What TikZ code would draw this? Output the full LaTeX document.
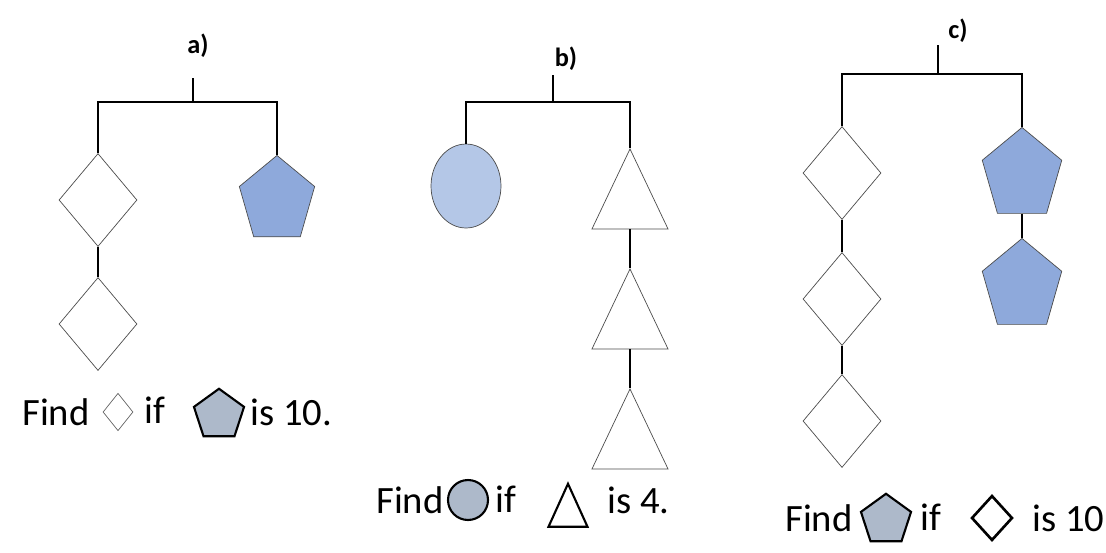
\documentclass[tikz,border=0pt]{standalone}
\usepackage{fontspec}
\setmainfont{Carlito}
\usetikzlibrary{shapes.geometric}
\definecolor{pentblue}{HTML}{8EA9DB}
\definecolor{ovalblue}{HTML}{B4C7E7}
\definecolor{keygray}{HTML}{ADB9CA}
\tikzset{
  wire/.style={line width=1.6pt},
  dia/.style={shape=diamond,draw=black!70,fill=white,inner sep=0pt,minimum width=1.56cm,minimum height=1.86cm},
  pent/.style={shape=regular polygon,regular polygon sides=5,draw=black!70,fill=pentblue,inner sep=0pt,minimum size=1.8cm,anchor=north,transform shape,xscale=0.88},
  tri/.style={shape=isosceles triangle,shape border rotate=90,isosceles triangle stretches,draw=black!70,fill=white,inner sep=0pt,minimum width=1.52cm,minimum height=1.6cm,anchor=apex},
  txt/.style={font=\fontsize{22}{26}\selectfont,inner sep=0pt},
  lbl/.style={font=\fontsize{15}{18}\selectfont\bfseries,inner sep=0pt}
}
\begin{document}
\begin{tikzpicture}[x=0.02cm,y=-0.02cm]
\useasboundingbox (0,0) rectangle (1106,552);
% a)
\node[lbl](la)at(198,46){a)};
\node[dia](a1)at(98,200){};
\node[dia](a2)at(98,324){};
\node[pent](a3)at(277,155){};
\coordinate(at)at(193,78);
\coordinate(ab)at(193,102);
\draw[wire](at)--(ab);
\draw[wire](a1.north)|-(ab)-|(a3.north);
\draw[wire](a1.south)--(a2.north);
\node[txt,anchor=west](fa)at(22,412){Find};
\node[dia,minimum width=0.6cm,minimum height=0.75cm,draw=black!60](ka1)at(118,412){};
\node[txt](fa2)at(155,410){if};
\node[pent,anchor=center,xscale=1.14,fill=keygray,draw=black,line width=1.2pt,minimum size=1.05cm](ka2)at(219,415){};
\node[txt,anchor=west](fa3)at(250,412){is 10.};
% b)
\node[lbl](lb)at(566,59){b)};
\node[shape=ellipse,draw=black!70,fill=ovalblue,minimum width=1.4cm,minimum height=1.68cm,inner sep=0pt](b0)at(466,186){};
\node[tri](b1)at(630,148){};
\node[tri](b2)at(630,268){};
\node[tri](b3)at(630,388){};
\coordinate(bt)at(553,75);
\coordinate(bb)at(553,102);
\draw[wire](bt)--(bb);
\draw[wire](b0.north)|-(bb)-|(b1.apex);
\draw[wire](b1.south)--(b2.apex);
\draw[wire](b2.south)--(b3.apex);
\node[txt,anchor=west](fb)at(376,500){Find};
\node[shape=circle,draw=black,line width=1.2pt,fill=keygray,minimum size=0.8cm,inner sep=0pt](kb1)at(468,500){};
\node[txt](fb2)at(506,499){if};
\node[shape=isosceles triangle,shape border rotate=90,isosceles triangle stretches,draw=black,line width=1.2pt,inner sep=0pt,minimum width=0.78cm,minimum height=0.86cm,anchor=apex](kb2)at(568,481){};
\node[txt,anchor=west](fb3)at(607,500){is 4.};
% c)
\node[lbl](lc)at(958,31){c)};
\node[dia](c1)at(842,173){};
\node[dia](c2)at(842,299){};
\node[dia](c3)at(842,421){};
\node[pent,minimum size=1.9cm](c4)at(1022,127){};
\node[pent,minimum size=1.9cm](c5)at(1022,238){};
\coordinate(ct)at(938,45);
\coordinate(cb)at(938,74);
\draw[wire](ct)--(cb);
\draw[wire](c1.north)|-(cb)-|(c4.north);
\draw[wire](c1.south)--(c2.north);
\draw[wire](c2.south)--(c3.north);
\draw[wire](c4.south)--(c5.north);
\node[txt,anchor=west](fc)at(785,518){Find};
\node[pent,anchor=center,xscale=1.14,fill=keygray,draw=black,line width=1.2pt,minimum size=1.05cm](kc1)at(886,520){};
\node[txt](fc2)at(931,517){if};
\node[shape=diamond,draw=black,line width=1.5pt,inner sep=0pt,minimum width=0.82cm,minimum height=0.9cm](kc2)at(992,518){};
\node[txt,anchor=west](fc3)at(1032,518){is 10};
\end{tikzpicture}
\end{document}
